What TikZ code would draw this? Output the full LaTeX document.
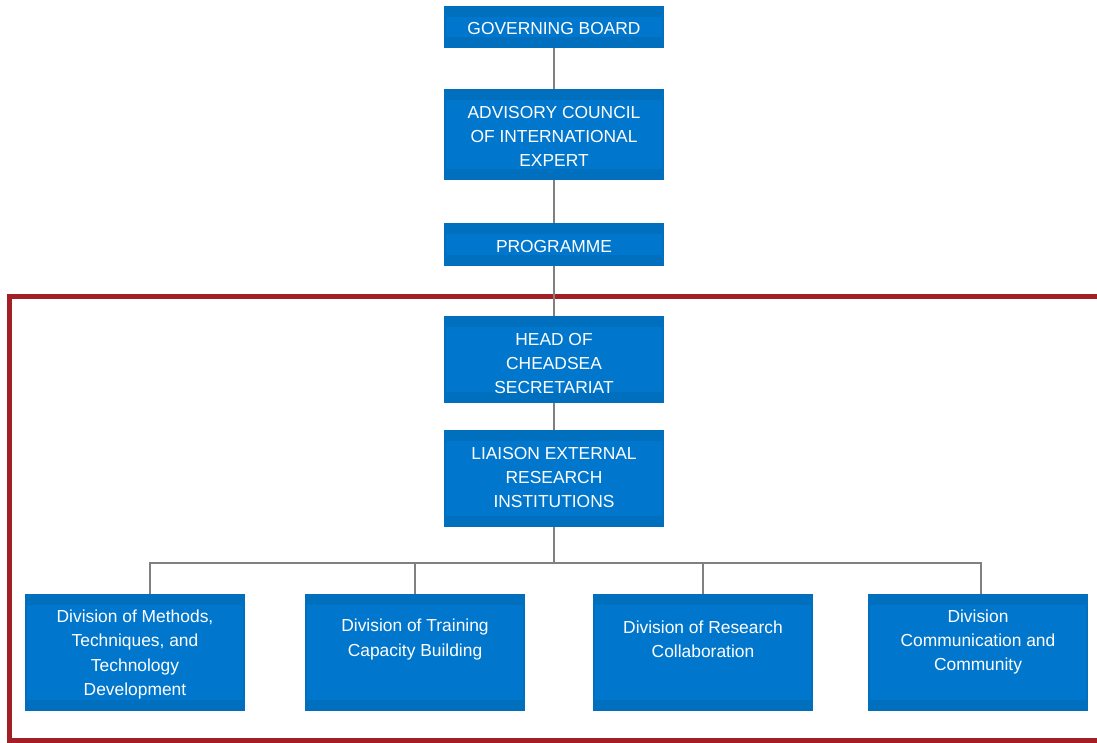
\documentclass[tikz,border=0pt]{standalone}
\usepackage{fontspec}
\setmainfont{Liberation Sans}
\definecolor{boxedge}{RGB}{0,111,190}
\definecolor{boxface}{RGB}{0,119,204}
\definecolor{framered}{RGB}{163,31,38}
\definecolor{linkgray}{RGB}{128,128,128}
\begin{document}
\begin{tikzpicture}[x=1pt,y=-1pt,
  box/.style={rectangle, inner sep=0pt, minimum width=220pt, fill=boxedge,
    path picture={
      \fill[boxface]
        ([xshift=2pt,yshift=-10.5pt]path picture bounding box.north west)
        rectangle
        ([xshift=-2pt,yshift=11pt]path picture bounding box.south east);
    }},
  label/.style={text=white, align=center, inner sep=0pt,
    font=\fontsize{17.4}{24.4}\selectfont},
  link/.style={draw=linkgray, line width=2.5pt},
  frame/.style={draw=framered, line width=5pt}]
\useasboundingbox (0,0) rectangle (1097,742);

% boxes of the upper chain
\node[box, minimum height=42pt] (gb)   at (554,27)    {};
\node[box, minimum height=91pt] (adv)  at (554,134.5) {};
\node[box, minimum height=43pt] (prog) at (554,244.5) {};
\node[box, minimum height=87pt] (head) at (554,359.5) {};
\node[box, minimum height=97pt] (lia)  at (554,478.5) {};

% division boxes
\node[box, minimum height=117pt] (d1) at (135,652.5) {};
\node[box, minimum height=117pt] (d2) at (415,652.5) {};
\node[box, minimum height=117pt] (d3) at (703,652.5) {};
\node[box, minimum height=117pt] (d4) at (978,652.5) {};

% secretariat frame, open on the right
\draw[frame] (1100,296) -- (9.5,296) -- (9.5,740) -- (1100,740);

% connectors
\draw[link] (gb.south) -- (adv.north);
\draw[link] (adv.south) -- (prog.north);
\draw[link] (prog.south) -- (head.north);
\draw[link] (head.south) -- (lia.north);
\coordinate (bus) at (554,563);
\coordinate (d1top) at ([xshift=15pt]d1.north);
\coordinate (d4top) at ([xshift=3pt]d4.north);
\draw[link] (lia.south) -- (bus);
\draw[link] (d1top) -- (d1top |- bus) -- (d4top |- bus) -- (d4top);
\draw[link] (d2.north) -- (d2.north |- bus);
\draw[link] (d3.north) -- (d3.north |- bus);

% labels
\node[label] (gbt)   at (554,28.5)  {GOVERNING BOARD};
\node[label] (advt)  at (554,136.5) {ADVISORY COUNCIL\\OF INTERNATIONAL\\EXPERT};
\node[label] (progt) at (554,246.5) {PROGRAMME};
\node[label] (headt) at (554,363.5) {HEAD OF\\CHEADSEA\\SECRETARIAT};
\node[label] (liat)  at (554,477.5) {LIAISON EXTERNAL\\RESEARCH\\INSTITUTIONS};
\node[label] (d1t) at (135,654.5) {Division of Methods,\\Techniques, and\\Technology\\Development};
\node[label] (d2t) at (415,639.5) {Division of Training\\Capacity Building};
\node[label] (d3t) at (703,639) {Division of Research\\Collaboration};
\node[label] (d4t) at (978,642) {Division\\Communication and\\Community};
\end{tikzpicture}
\end{document}
